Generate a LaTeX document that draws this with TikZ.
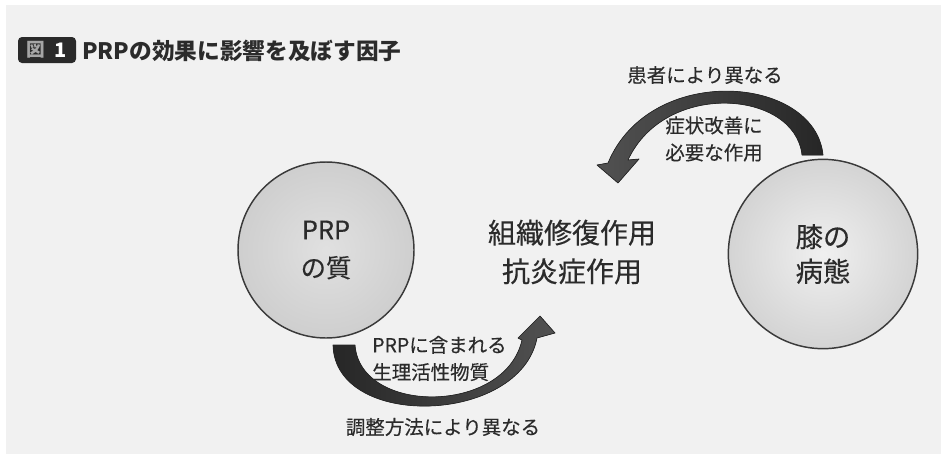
\documentclass[tikz,border=0pt]{standalone}
\usepackage{fontspec}
\setmainfont{Noto Sans CJK JP}
\newfontfamily\jp[FakeBold=0.35]{Noto Sans CJK JP}
\definecolor{panel}{HTML}{F1F1F1}
\definecolor{ink}{HTML}{2B2B2B}
\definecolor{badge}{HTML}{2A2A2A}
\definecolor{rim}{HTML}{3A3A3A}
\tikzset{
  fz/.style n args={2}{font=\jp\fontsize{#1}{#2}\selectfont},
  label text/.style={text=ink, inner sep=0pt, align=center},
  bubble/.style={circle, draw=rim, line width=1.1pt, text=ink, align=center, inner sep=0pt},
  bigarrow/.style={draw=black!85, line width=0.5pt, line join=round},
}
\begin{document}
\begin{tikzpicture}[x=0.75pt,y=-0.75pt]
\useasboundingbox (0,0) rectangle (941,454);
\fill[white] (0,0) rectangle (941,454);
\fill[panel] (6,5) rectangle (941,454);

% title
\node[fill=badge, rounded corners=3pt, minimum width=43.5pt, minimum height=19.5pt, inner sep=0pt] (badge) at (47,50) {};
\node[font=\fontsize{14}{16}\selectfont\bfseries, text=black!35, inner sep=0pt] (zu) at (36,50) {図};
\node[font=\fontsize{15}{16}\selectfont\bfseries, text=white, inner sep=0pt] (one) at (61,50) {1};
\node[font=\fontsize{17}{18}\selectfont\bfseries, text=ink, anchor=west, inner sep=0pt] (title) at (82,51) {PRPの効果に影響を及ぼす因子};

% circles
\node[bubble, minimum size=132pt, inner color=black!12, outer color=black!19, fz={19}{28.5}] (prp) at (326,250) {PRP\\の質};
\node[bubble, minimum size=142pt, inner color=black!6, outer color=black!17, fz={20.5}{26}] (knee) at (823,254) {膝の\\病態};

% center text
\node[label text, fz={21}{29}] (effect) at (572,252) {組織修復作用\\抗炎症作用};

% top arrow
\coordinate (t1) at (823,155);
\coordinate (t2) at (802,155);
\fill[bigarrow, left color=black!68, right color=black!85]
  (t1) .. controls (815,75) and (650,62) .. (608,163)
  -- (597,165) -- (618,183) -- (639,159) -- (628,160)
  .. controls (665,80) and (795,90) .. (t2) -- cycle;
\node[label text, fz={14.6}{20}] (patient) at (705,75) {患者により異なる};
\node[label text, fz={14.6}{20.3}] (need) at (714,139) {症状改善に\\必要な作用};

% bottom arrow
\coordinate (b1) at (333,345);
\coordinate (b2) at (355,345);
\fill[bigarrow, left color=black!85, right color=black!68]
  (b1) .. controls (335,430) and (520,425) .. (537,338)
  -- (555,333) -- (540,316) -- (518,338) -- (522,340)
  .. controls (505,415) and (360,415) .. (b2) -- cycle;
\node[label text, fz={14.6}{20.3}, align=left, anchor=west] (contain) at (372,358.5) {PRPに含まれる\\生理活性物質};
\node[label text, fz={14.6}{20}] (prep) at (443,427) {調整方法により異なる};
\end{tikzpicture}
\end{document}
